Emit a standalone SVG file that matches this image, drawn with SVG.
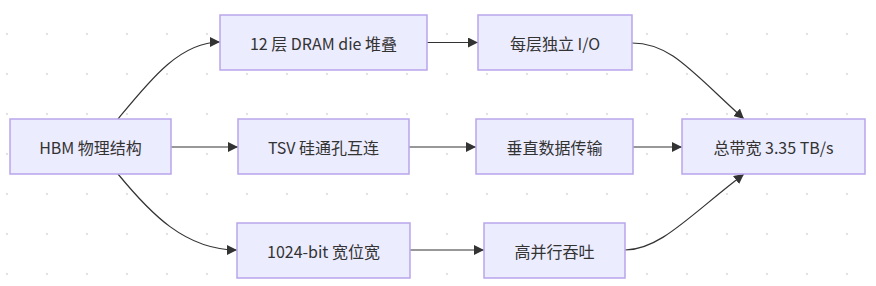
<svg xmlns="http://www.w3.org/2000/svg" width="876" height="286" viewBox="0 0 876 286">
<defs>
<pattern id="dots" x="6" y="33" width="40" height="40" patternUnits="userSpaceOnUse">
<rect x="0" y="0" width="2" height="2" fill="#e2e2e2"/>
</pattern>
<marker id="arr" viewBox="0 0 10 10" refX="10" refY="5" markerWidth="10" markerHeight="10" markerUnits="userSpaceOnUse" orient="auto">
<path d="M0,0 L10,5 L0,10 z" fill="#333333"/>
</marker>
<style>
.node rect{fill:#ECECFF;stroke:#B9A5EC;stroke-width:1.5}
.node text{font-family:"Noto Sans CJK SC","Noto Sans",sans-serif;font-size:16px;fill:#333333;text-anchor:middle;dominant-baseline:central}
.edges path{fill:none;stroke:#333333;stroke-width:1.2;marker-end:url(#arr)}
</style>
</defs>
<rect width="876" height="286" fill="#ffffff"/>
<rect width="876" height="286" fill="url(#dots)"/>
<g class="edges" id="edges">
<path d="M118,119 C150,80 180,42 220,42"/>
<path d="M118,174 C150,213 185,250 237,250"/>
<path d="M171,147 L238,147"/>
<path d="M427,42.5 L478,42.5"/>
<path d="M409,147 L476,147"/>
<path d="M410,250 L484,250"/>
<path d="M633,147 L682,147"/>
<path d="M632,43 C670,43 690,70 744,119"/>
<path d="M625,250 C660,250 690,215 744,174"/>
</g>
<g class="node" id="hbm"><rect x="10" y="119" width="161" height="55"/><text x="90.5" y="147">HBM 物理结构</text></g>
<g class="node" id="dram"><rect x="220" y="15" width="207" height="55"/><text x="323.5" y="42.5">12 层 DRAM die 堆叠</text></g>
<g class="node" id="io"><rect x="478" y="15" width="154" height="55"/><text x="555" y="42.5">每层独立 I/O</text></g>
<g class="node" id="tsv"><rect x="238" y="119" width="171" height="55"/><text x="323.5" y="147">TSV 硅通孔互连</text></g>
<g class="node" id="vert"><rect x="476" y="119" width="157" height="55"/><text x="554.5" y="147">垂直数据传输</text></g>
<g class="node" id="bw"><rect x="682" y="119" width="183" height="55"/><text x="773.5" y="147">总带宽 3.35 TB/s</text></g>
<g class="node" id="width"><rect x="237" y="223" width="173" height="55"/><text x="323.5" y="250.5">1024-bit 宽位宽</text></g>
<g class="node" id="thr"><rect x="484" y="223" width="141" height="55"/><text x="554.5" y="250.5">高并行吞吐</text></g>
</svg>
